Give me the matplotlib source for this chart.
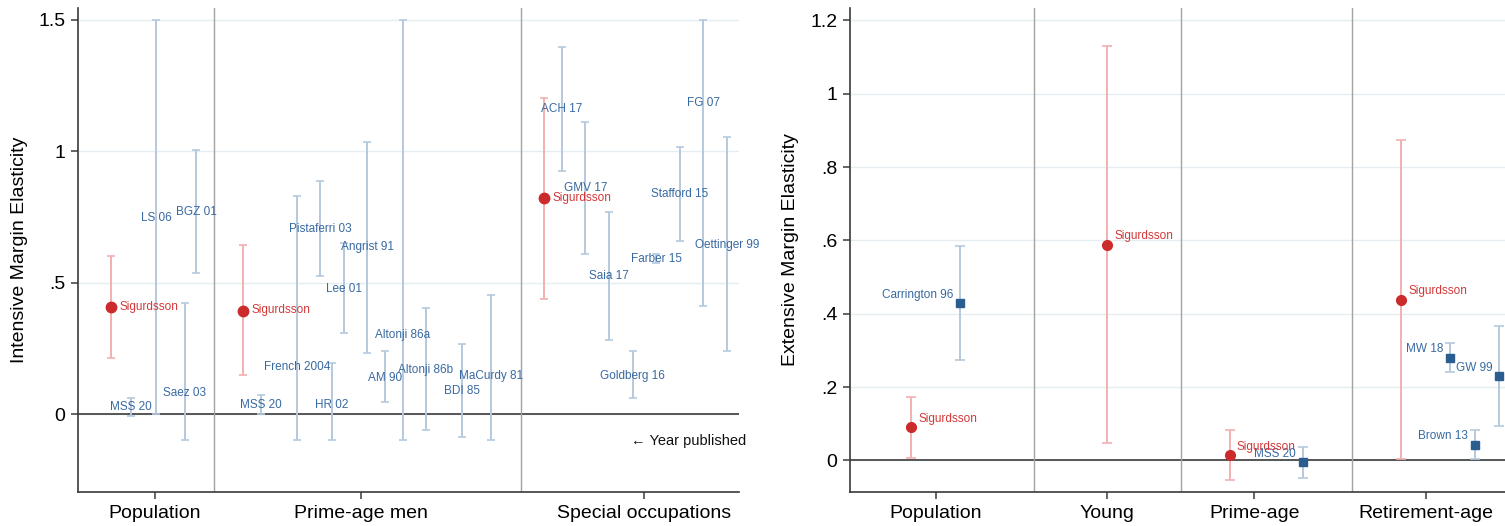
import numpy as np
import matplotlib.pyplot as plt

plt.rcParams['font.family'] = ['Liberation Sans', 'DejaVu Sans']

# ---- intensive margin (left panel) ----
int_groups = ["Population", "Prime-age men", "Special occupations"]
int_group_pos = [3.28, 12.04, 24.09]
int_breaks = [5.79, 18.85]

sig_int_x = [1.40, 7.02, 19.82]
sig_int_est = [0.406, 0.394, 0.821]
sig_int_lo = [0.214, 0.148, 0.439]
sig_int_hi = [0.600, 0.642, 1.203]

lit_int_names = ["MSS 20", "LS 06", "Saez 03", "BGZ 01",
                 "MSS 20", "French 2004", "Pistaferri 03", "HR 02", "Lee 01",
                 "Angrist 91", "AM 90", "Altonji 86a", "Altonji 86b", "BDI 85",
                 "MaCurdy 81",
                 "ACH 17", "GMV 17", "Saia 17", "Goldberg 16", "Farber 15",
                 "Stafford 15", "FG 07", "Oettinger 99"]
lit_int_x = [2.26, 3.32, 4.55, 5.04,
             7.79, 9.31, 10.30, 10.80, 11.32, 12.30, 13.06, 13.82, 14.81,
             16.33, 17.56,
             20.58, 21.59, 22.58, 23.60, 24.60, 25.60, 26.61, 27.62]
lit_int_est = [0.026, 0.747, 0.082, 0.767,
               0.036, 0.178, 0.702, 0.034, 0.477, 0.634, 0.138, 0.301, 0.169,
               0.089, 0.145,
               1.159, 0.859, 0.524, 0.145, 0.590, 0.835, 1.184, 0.644]
lit_int_lo = [-0.008, 0.0, -0.10, 0.535,
              0.0, -0.10, 0.524, -0.10, 0.309, 0.233, 0.045, -0.10, -0.062,
              -0.086, -0.10,
              0.925, 0.610, 0.281, 0.062, 0.573, 0.657, 0.411, 0.241]
lit_int_hi = [0.060, 1.5, 0.424, 1.006,
              0.074, 0.828, 0.885, 0.196, 0.650, 1.036, 0.239, 1.5, 0.405,
              0.267, 0.452,
              1.395, 1.111, 0.770, 0.241, 0.608, 1.014, 1.5, 1.052]

# ---- extensive margin (right panel) ----
ext_groups = ["Population", "Young", "Prime-age", "Retirement-age"]
ext_group_pos = [3, 10, 16, 23]
ext_breaks = [7, 13, 20]

sig_ext_x = [2, 10, 15, 22]
sig_ext_est = [0.090, 0.589, 0.014, 0.439]
sig_ext_lo = [0.008, 0.048, -0.053, 0.005]
sig_ext_hi = [0.174, 1.131, 0.082, 0.873]

lit_ext_names = ["Carrington 96", "MSS 20", "MW 18", "Brown 13", "GW 99"]
lit_ext_x = [4, 18, 24, 25, 26]
lit_ext_est = [0.429, -0.005, 0.280, 0.043, 0.230]
lit_ext_lo = [0.274, -0.047, 0.242, 0.003, 0.093]
lit_ext_hi = [0.586, 0.037, 0.320, 0.084, 0.367]

red = '#CC2B2B'
red_ci = '#F2B0B0'
red_txt = '#D23838'
blue = '#2C5D8F'
blue_ci = '#B5C9DD'
blue_txt = '#3869A1'
grid_c = '#E5EDF1'


def style(ax):
    for s in ['top', 'right']:
        ax.spines[s].set_visible(False)
    for s in ['left', 'bottom']:
        ax.spines[s].set_color('#3a3a3a')
        ax.spines[s].set_linewidth(1.2)
    ax.tick_params(axis='both', direction='out', length=5, width=1.1,
                   color='#3a3a3a', labelsize=14, pad=4)
    ax.grid(axis='y', color=grid_c, lw=1)
    ax.set_axisbelow(True)
    ax.axhline(0, color='#555555', lw=1.4, zorder=1)


fig = plt.figure(figsize=(15.05, 5.26), dpi=100)
ax1 = fig.add_axes([78 / 1505, 34 / 526, 661 / 1505, 484 / 526])
ax2 = fig.add_axes([850 / 1505, 34 / 526, 655 / 1505, 484 / 526])

# left panel
style(ax1)
for b in int_breaks:
    ax1.axvline(b, color='#A3A3A3', lw=1, zorder=1)

e = np.array(lit_int_est)
ax1.errorbar(lit_int_x, e, yerr=[e - np.array(lit_int_lo), np.array(lit_int_hi) - e],
             fmt='none', ecolor=blue_ci, elinewidth=1.4, capsize=3, capthick=1.2, zorder=2)
for xx, yy, nm in zip(lit_int_x, lit_int_est, lit_int_names):
    ax1.text(xx, yy, nm, ha='center', va='center', color=blue_txt, fontsize=8.5, zorder=4)

e = np.array(sig_int_est)
ax1.errorbar(sig_int_x, e, yerr=[e - np.array(sig_int_lo), np.array(sig_int_hi) - e],
             fmt='o', color=red, ms=7.5, ecolor=red_ci, elinewidth=1.4,
             capsize=3, capthick=1.2, zorder=3)
for xx, yy in zip(sig_int_x, sig_int_est):
    ax1.annotate("Sigurdsson", (xx, yy), xytext=(6, 0), textcoords='offset points',
                 ha='left', va='center', color=red_txt, fontsize=8.5, zorder=4)

ax1.set_xlim(0, 28.13)
ax1.set_ylim(-0.296, 1.544)
ax1.set_yticks([0, 0.5, 1, 1.5])
ax1.set_yticklabels(["0", ".5", "1", "1.5"])
ax1.set_xticks(int_group_pos)
ax1.set_xticklabels(int_groups)
ax1.set_ylabel("Intensive Margin Elasticity", fontsize=14)
ax1.yaxis.set_label_coords(-0.076, 0.5)
ax1.text(28.43, -0.104, "\u2190 Year published", ha='right', va='center',
         fontsize=10.5, color='#111111', clip_on=False)

# right panel
style(ax2)
for b in ext_breaks:
    ax2.axvline(b, color='#A3A3A3', lw=1, zorder=1)

e = np.array(lit_ext_est)
ax2.errorbar(lit_ext_x, e, yerr=[e - np.array(lit_ext_lo), np.array(lit_ext_hi) - e],
             fmt='s', color=blue, ms=5.5, ecolor=blue_ci, elinewidth=1.4,
             capsize=3.5, capthick=1.2, zorder=3)
for xx, yy, nm in zip(lit_ext_x, lit_ext_est, lit_ext_names):
    ax2.annotate(nm, (xx, yy), xytext=(-5, 6), textcoords='offset points',
                 ha='right', va='center', color=blue_txt, fontsize=8.5, zorder=4)

e = np.array(sig_ext_est)
ax2.errorbar(sig_ext_x, e, yerr=[e - np.array(sig_ext_lo), np.array(sig_ext_hi) - e],
             fmt='o', color=red, ms=7, ecolor=red_ci, elinewidth=1.4,
             capsize=3.5, capthick=1.2, zorder=3)
for xx, yy in zip(sig_ext_x, sig_ext_est):
    ax2.annotate("Sigurdsson", (xx, yy), xytext=(5, 6), textcoords='offset points',
                 ha='left', va='center', color=red_txt, fontsize=8.5, zorder=4)

ax2.set_xlim(-0.5, 26.24)
ax2.set_ylim(-0.086, 1.234)
ax2.set_yticks([0, 0.2, 0.4, 0.6, 0.8, 1, 1.2])
ax2.set_yticklabels(["0", ".2", ".4", ".6", ".8", "1", "1.2"])
ax2.set_xticks(ext_group_pos)
ax2.set_xticklabels(ext_groups)
ax2.set_ylabel("Extensive Margin Elasticity", fontsize=14)
ax2.yaxis.set_label_coords(-0.078, 0.5)

fig.savefig("out.png", dpi=100)
